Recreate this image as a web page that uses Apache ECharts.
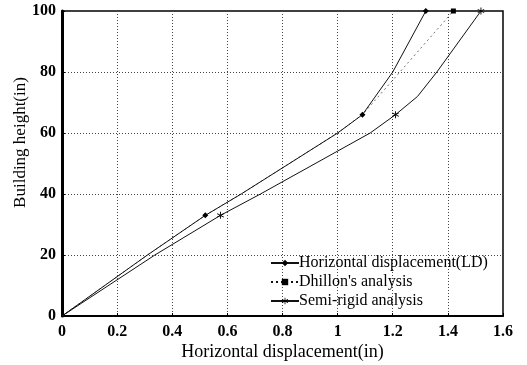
<!DOCTYPE html>
<html>
<head>
<meta charset="utf-8">
<script src="https://cdn.jsdelivr.net/npm/echarts@6/dist/echarts.min.js"></script>
<style>
  html, body { margin: 0; padding: 0; background: #fff; }
  #chart { width: 527px; height: 365px; }
</style>
</head>
<body>
<div id="chart"></div>
<script>
// values
const xTicks = [0, 0.2, 0.4, 0.6, 0.8, 1, 1.2, 1.4, 1.6]
const yTicks = [0, 20, 40, 60, 80, 100]

const ldX = [0, 0.31, 0.52, 0.65, 1.0, 1.09, 1.2, 1.32]
const ldY = [0, 20, 33, 40, 60, 66, 80, 100]
const ldMark = [0, 0, 1, 0, 0, 1, 0, 1]

const dhX = [0, 0.31, 0.52, 0.65, 1.0, 1.09, 1.42]
const dhY = [0, 20, 33, 40, 60, 66, 100]
const dhMark = [0, 0, 0, 0, 0, 0, 1]

const srX = [0, 0.337, 0.575, 0.72, 1.118, 1.21, 1.29, 1.36, 1.52]
const srY = [0, 20, 33, 40, 60, 66, 72, 80, 100]
const srMark = [0, 0, 1, 0, 0, 1, 0, 0, 1]

const names = ['Horizontal displacement(LD)', "Dhillon's analysis", 'Semi-rigid analysis']

const asterisk = 'path://M-0.6,-5H0.6V5H-0.6Z M-4.6,-2.0L-4.0,-3.0L4.6,2.0L4.0,3.0Z M-4.6,2.0L-4.0,3.0L4.6,-2.0L4.0,-3.0Z'

function points(xs, ys, marks) {
  return xs.map((x, i) => ({ value: [x, ys[i]], symbol: marks[i] ? undefined : 'none' }))
}

const font = '"Liberation Serif", "DejaVu Serif", serif'

const chart = echarts.init(document.getElementById('chart'))

const lineSeries = (name, data, symbol, size, width, type) => ({
  name: name,
  type: 'line',
  data: data,
  symbol: symbol,
  symbolSize: size,
  showAllSymbol: true,
  lineStyle: { color: '#111', width: width, type: type },
  itemStyle: { color: '#000' },
  emphasis: { disabled: true }
})

chart.setOption({
  animation: false,
  grid: {
    left: 62, right: 24, top: 11, bottom: 49,
    outerBoundsMode: 'none',
    show: true, borderColor: '#000', borderWidth: 1.5
  },
  legend: {
    data: names,
    orient: 'vertical',
    left: 265, top: 250,
    itemWidth: 28, itemHeight: 8, itemGap: 3,
    textStyle: { fontFamily: font, fontSize: 16, color: '#000', padding: [0, 0, 0, -5] }
  },
  xAxis: {
    type: 'value',
    min: 0, max: 1.6, interval: 0.2,
    name: 'Horizontal displacement(in)',
    nameLocation: 'middle', nameGap: 27, nameMoveOverlap: false,
    nameTextStyle: { fontFamily: font, fontSize: 18, color: '#000' },
    axisLine: { onZero: false, lineStyle: { color: '#000', width: 2 } },
    axisTick: { inside: true, length: 3, lineStyle: { color: '#000' } },
    axisLabel: {
      fontFamily: font, fontSize: 16, fontWeight: 'bold', color: '#000', margin: 8,
      formatter: v => xTicks.includes(+v.toFixed(1)) ? String(+v.toFixed(1)) : ''
    },
    splitLine: { lineStyle: { color: '#444', type: [1, 2], width: 1 } }
  },
  yAxis: {
    type: 'value',
    min: 0, max: 100, interval: 20,
    name: 'Building height(in)',
    nameLocation: 'middle', nameGap: 33, nameMoveOverlap: false,
    nameTextStyle: { fontFamily: font, fontSize: 17, color: '#000', padding: [0, 0, 0, 42] },
    axisLine: { onZero: false, lineStyle: { color: '#000', width: 3 } },
    axisTick: { inside: true, length: 3, lineStyle: { color: '#000' } },
    axisLabel: {
      fontFamily: font, fontSize: 16, fontWeight: 'bold', color: '#000', margin: 6,
      formatter: v => yTicks.includes(v) ? String(v) : ''
    },
    splitLine: { lineStyle: { color: '#444', type: [1, 2], width: 1 } }
  },
  series: [
    lineSeries(names[0], points(ldX, ldY, ldMark), 'diamond', 6, 1, 'solid'),
    lineSeries(names[1], points(dhX, dhY, dhMark), 'rect', 5, 0.6, [2, 3]),
    lineSeries(names[2], points(srX, srY, srMark), asterisk, 7, 1, 'solid')
  ]
})
</script>
</body>
</html>
